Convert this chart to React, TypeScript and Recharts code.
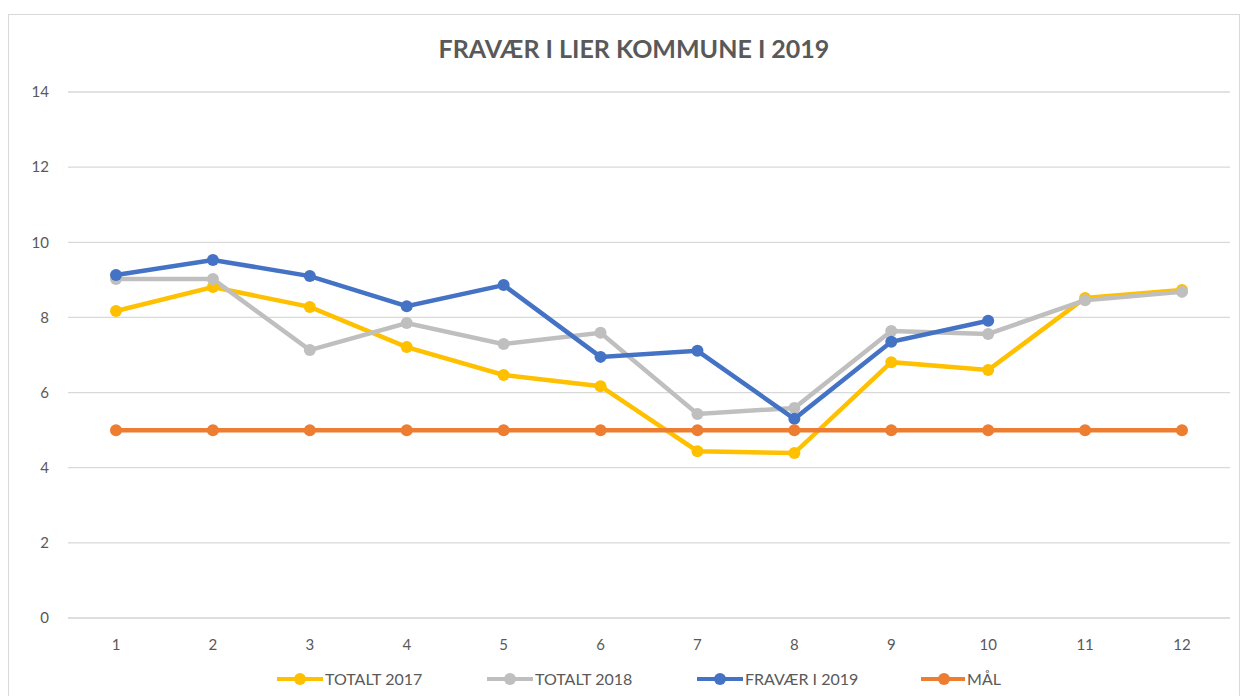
import React from "react";
import { LineChart, Line, XAxis, YAxis, CartesianGrid } from "recharts";

const months = ["1", "2", "3", "4", "5", "6", "7", "8", "9", "10", "11", "12"];
const totalt2017 = [8.17, 8.81, 8.28, 7.21, 6.47, 6.17, 4.44, 4.39, 6.81, 6.6, 8.52, 8.73];
const totalt2018 = [9.02, 9.02, 7.13, 7.85, 7.29, 7.59, 5.43, 5.59, 7.64, 7.56, 8.46, 8.68];
const fravaer2019: (number | null)[] = [9.13, 9.53, 9.1, 8.3, 8.86, 6.95, 7.11, 5.3, 7.35, 7.91, null, null];
const maal = [5, 5, 5, 5, 5, 5, 5, 5, 5, 5, 5, 5];
const yTicks = [0, 2, 4, 6, 8, 10, 12, 14];

const seriesDefs = [
  { key: "t2017", name: "TOTALT 2017", color: "#FFC000", values: totalt2017 },
  { key: "t2018", name: "TOTALT 2018", color: "#BFBFBF", values: totalt2018 },
  { key: "f2019", name: "FRAVÆR I 2019", color: "#4472C4", values: fravaer2019 },
  { key: "maal", name: "MÅL", color: "#ED7D31", values: maal },
];

const data = months.map((m, i) => {
  const row: Record<string, string | number | null> = { month: m };
  seriesDefs.forEach((s) => {
    row[s.key] = s.values[i];
  });
  return row;
});

const FONT = "Lato, 'Open Sans', 'Liberation Sans', sans-serif";

const legendWidths = [210, 210, 224, 80];

export default function App() {
  return (
    <div
      style={{
        position: "absolute",
        left: 8,
        top: 14,
        width: 1230,
        height: 690,
        border: "1px solid #d9d9d9",
        background: "#fff",
      }}
    >
      <div
        style={{
          position: "absolute",
          top: 18,
          left: 0,
          width: 1250,
          textAlign: "center",
          fontFamily: FONT,
          fontWeight: 700,
          fontSize: 25,
          color: "#595959",
        }}
      >
        FRAVÆR I LIER KOMMUNE I 2019
      </div>
      <LineChart
        width={1228}
        height={680}
        data={data}
        margin={{ top: 77, right: 7, left: 19, bottom: 47 }}
      >
        <CartesianGrid horizontal vertical={false} stroke="#d9d9d9" strokeWidth={1.3} />
        <XAxis
          dataKey="month"
          axisLine={{ stroke: "#d9d9d9" }}
          tickLine={false}
          tickMargin={15}
          padding={{ left: 48, right: 48 }}
          tick={{ fill: "#595959", fontSize: 15, fontFamily: FONT }}
          height={30}
        />
        <YAxis
          domain={[0, 14]}
          ticks={yTicks}
          width={40}
          axisLine={false}
          tickLine={false}
          tickMargin={13}
          tick={{ fill: "#595959", fontSize: 15, fontFamily: FONT }}
        />
        {seriesDefs.map((s) => (
          <Line
            key={s.key}
            dataKey={s.key}
            name={s.name}
            stroke={s.color}
            strokeWidth={4.5}
            dot={{ r: 6, fill: s.color, stroke: s.color, strokeWidth: 0 }}
            activeDot={false}
            isAnimationActive={false}
            connectNulls={false}
          />
        ))}
      </LineChart>
      <div
        style={{
          position: "absolute",
          top: 654,
          left: 268,
          display: "flex",
          fontFamily: FONT,
          fontSize: 16,
          color: "#595959",
        }}
      >
        {seriesDefs.map((s, i) => (
          <div key={s.key} style={{ width: legendWidths[i], display: "flex", alignItems: "center" }}>
            <svg width={46} height={14} style={{ marginRight: 2 }}>
              <line x1={0} y1={7} x2={46} y2={7} stroke={s.color} strokeWidth={4} />
              <circle cx={23} cy={7} r={6} fill={s.color} />
            </svg>
            <span style={{ whiteSpace: "nowrap" }}>{s.name}</span>
          </div>
        ))}
      </div>
    </div>
  );
}
